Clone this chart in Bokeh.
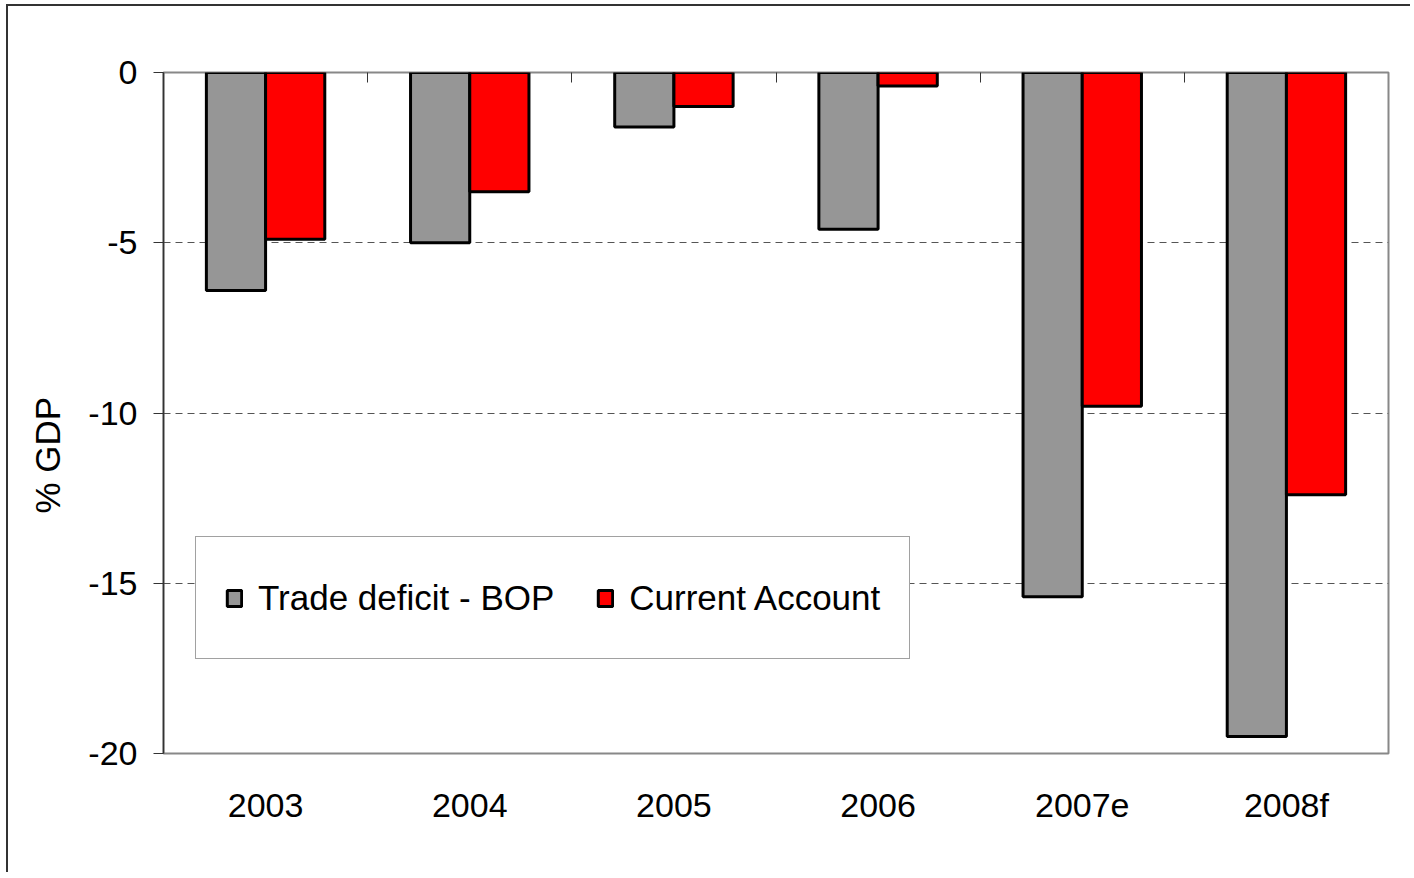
import numpy as np
from bokeh.plotting import figure
from bokeh.models import (Range1d, FixedTicker, LinearAxis, Legend, LegendItem,
                          ColumnDataSource, Title)
from bokeh.transform import dodge
from bokeh.embed import file_html
from bokeh.resources import INLINE

# ---- data ----
categories = ["2003", "2004", "2005", "2006", "2007e", "2008f"]
trade_deficit = [-6.4, -5.0, -1.6, -4.6, -15.4, -19.5]
current_account = [-4.9, -3.5, -1.0, -0.4, -9.8, -12.4]
y_ticks = [-20, -15, -10, -5, 0]
y_tick_labels = ["-20", "-15", "-10", "-5", "0"]
grid_ticks = [-15, -10, -5]

FONT = "Liberation Sans"

xpos = [i + 0.5 for i in range(len(categories))]
src = ColumnDataSource(dict(x=xpos, trade=trade_deficit, ca=current_account))

p = figure(width=1404, height=868, output_backend="svg", toolbar_location=None,
           x_range=Range1d(0, len(categories)), y_range=Range1d(-20, 0),
           min_border_left=155, min_border_top=66, min_border_right=24,
           min_border_bottom=121, background_fill_color="white",
           border_fill_color="white")
p.styles = {"margin-left": "6px", "margin-top": "4px",
            "border-left": "2px solid #333", "border-top": "2px solid #333"}

p.outline_line_color = "#888888"
p.outline_line_width = 2

bw = 0.29
r1 = p.vbar(x=dodge("x", -0.145), top=0, bottom="trade", width=bw, source=src,
            fill_color="#969696", line_color="black", line_width=3)
r2 = p.vbar(x=dodge("x", 0.145), top=0, bottom="ca", width=bw, source=src,
            fill_color="#FF0000", line_color="black", line_width=3)

# grid
p.xgrid.visible = False
p.ygrid.ticker = FixedTicker(ticks=grid_ticks)
p.ygrid.grid_line_color = "#555555"
p.ygrid.grid_line_dash = "7 5"
p.ygrid.grid_line_width = 1

# y axis
ya = p.yaxis[0]
ya.ticker = FixedTicker(ticks=y_ticks)
ya.major_label_overrides = {t: s for t, s in zip(y_ticks, y_tick_labels)}
ya.axis_line_color = "#333333"
ya.axis_line_width = 1.5
ya.major_tick_out = 10
ya.major_tick_in = 0
ya.major_tick_line_color = "#333333"
ya.minor_tick_line_color = None
ya.major_label_standoff = 16
ya.major_label_text_font = FONT
ya.major_label_text_font_size = "34px"
ya.major_label_text_color = "black"

# y axis title, placed below the frame centre as in the reference
ytitle = Title(text="% GDP", align="left", offset=240, standoff=34,
               vertical_align="top",
               text_font=FONT, text_font_size="35px", text_font_style="normal",
               text_color="black")
p.add_layout(ytitle, "left")

# x axis (bottom labels)
xa = p.xaxis[0]
xa.ticker = FixedTicker(ticks=xpos)
xa.major_label_overrides = {x: c for x, c in zip(xpos, categories)}
xa.axis_line_color = None
xa.major_tick_line_color = None
xa.minor_tick_line_color = None
xa.major_label_standoff = 26
xa.major_label_text_font = FONT
xa.major_label_text_font_size = "34px"
xa.major_label_text_color = "black"

# top axis: category separators at zero line
sep_ticks = list(range(1, len(categories)))
top = LinearAxis(ticker=FixedTicker(ticks=sep_ticks),
                 major_label_overrides={t: "" for t in sep_ticks},
                 major_tick_in=10, major_tick_out=0,
                 major_tick_line_color="#333333",
                 minor_tick_line_color=None, axis_line_color=None)
p.add_layout(top, "above")

legend = Legend(items=[LegendItem(label="Trade deficit - BOP", renderers=[r1]),
                       LegendItem(label="Current Account", renderers=[r2])],
                orientation="horizontal", location=(32, 94),
                padding=29, spacing=42, label_standoff=15,
                glyph_width=18, glyph_height=20, label_height=63,
                label_text_font=FONT, label_text_font_size="35px",
                label_text_color="black",
                border_line_color="#444444", border_line_width=1,
                background_fill_color="white", background_fill_alpha=1)
p.add_layout(legend, "center")

open("out.html", "w").write(file_html(p, INLINE))
